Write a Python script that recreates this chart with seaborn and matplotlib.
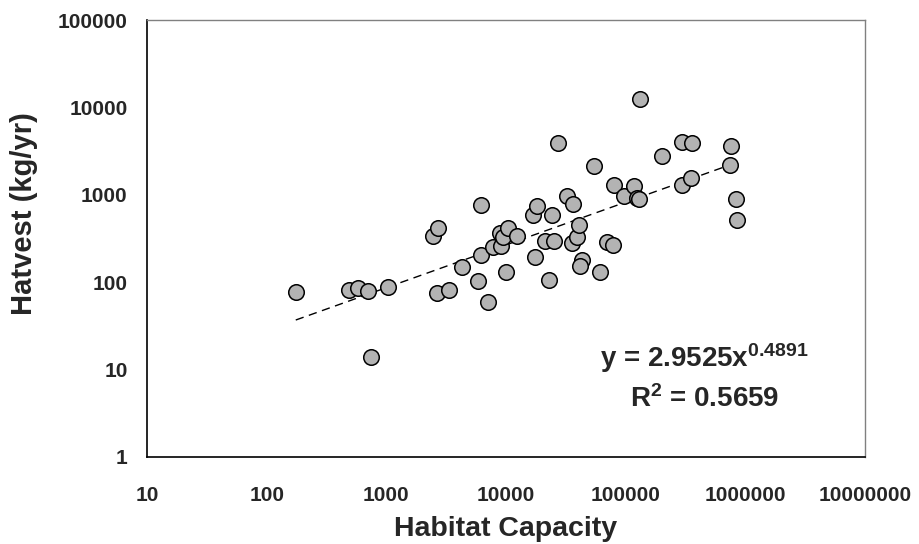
import numpy as np
import pandas as pd
import matplotlib
matplotlib.use("Agg")
import matplotlib.pyplot as plt
from matplotlib.ticker import FixedLocator, FixedFormatter, NullLocator
import seaborn as sns

# ---- data ----
habitat_capacity = [175, 488, 582, 706, 1042, 2650, 3335, 740,
                    2466, 2710, 4306, 5860, 6166, 6166, 7125, 7850,
                    9160, 8900, 9480, 10480, 12450, 9980, 16870, 18230,
                    17420, 21280, 25120, 22910, 24040, 27170, 32060, 36360,
                    35330, 38900, 40440, 43350, 41180, 54480, 60830, 69190,
                    78660, 79650, 96550, 117200, 125400, 128900, 131400, 201800,
                    293600, 358900, 295600, 353900, 756800, 743000, 833700, 855000]
harvest = [76.6, 81.4, 85.2, 78.7, 87.4, 75.2, 81.4, 13.8,
           338, 414, 148.5, 104, 205, 764, 59.8, 254,
           262, 363, 329, 415, 340, 130, 583, 748,
           196, 294, 294, 106.5, 587, 3894, 969, 789,
           283, 332, 454, 181, 152, 2125, 130, 287,
           263, 1285, 957, 1268, 931, 884, 12380, 2794,
           4038, 3948, 1285, 1537, 3637, 2209, 888, 512]

fit_a = 2.9525
fit_b = 0.4891
fit_r2 = 0.5659

x_ticks = [10, 100, 1000, 10000, 100000, 1000000, 10000000]
x_tick_labels = ["10", "100", "1000", "10000", "100000", "1000000", "10000000"]
y_ticks = [1, 10, 100, 1000, 10000, 100000]
y_tick_labels = ["1", "10", "100", "1000", "10000", "100000"]

df = pd.DataFrame({"Habitat Capacity": habitat_capacity, "Harvest": harvest})

# ---- style ----
sns.set_style("white")
plt.rcParams["font.family"] = ["Liberation Sans", "DejaVu Sans"]
plt.rcParams["font.weight"] = "bold"
plt.rcParams["mathtext.fontset"] = "custom"
plt.rcParams["mathtext.rm"] = "Liberation Sans:bold"
plt.rcParams["mathtext.it"] = "Liberation Sans:bold"
plt.rcParams["mathtext.bf"] = "Liberation Sans:bold"

fig = plt.figure(figsize=(9.2, 5.44), dpi=100)
ax = fig.add_axes([147 / 920, 1 - 457 / 544, 718 / 920, 437 / 544])

# trend line (power fit)
xs = np.logspace(np.log10(min(habitat_capacity)), np.log10(max(habitat_capacity)), 200)
ys = fit_a * xs ** fit_b
ax.plot(xs, ys, color="black", lw=1.0, linestyle=(0, (6, 4)), zorder=3)

sns.scatterplot(data=df, x="Habitat Capacity", y="Harvest", ax=ax,
                s=125, color="#b3b3b3", edgecolor="black", linewidth=1.1,
                zorder=4, legend=False)

ax.set_xscale("log")
ax.set_yscale("log")
ax.set_xlim(10, 1e7)
ax.set_ylim(1, 1e5)

ax.xaxis.set_major_locator(FixedLocator(x_ticks))
ax.xaxis.set_major_formatter(FixedFormatter(x_tick_labels))
ax.yaxis.set_major_locator(FixedLocator(y_ticks))
ax.yaxis.set_major_formatter(FixedFormatter(y_tick_labels))
ax.xaxis.set_minor_locator(NullLocator())
ax.yaxis.set_minor_locator(NullLocator())

ax.tick_params(axis="both", which="major", direction="in", length=5, width=1,
               color="black", labelsize=15)
ax.tick_params(axis="x", pad=21)
ax.tick_params(axis="y", pad=14)
for lab in ax.get_xticklabels() + ax.get_yticklabels():
    lab.set_fontweight("bold")

for side in ["left", "bottom"]:
    ax.spines[side].set_color("black")
    ax.spines[side].set_linewidth(1.2)
for side in ["top", "right"]:
    ax.spines[side].set_color("#808080")
    ax.spines[side].set_linewidth(1.0)

ax.set_xlabel("Habitat Capacity", fontsize=20.5, fontweight="bold")
ax.set_ylabel("Hatvest (kg/yr)", fontsize=21, fontweight="bold")
ax.xaxis.set_label_coords(0.5, -0.135)
ax.yaxis.set_label_coords(-0.152, 0.558)

ax.text(0.776, 0.2066, r"y = 2.9525x$^{%s}$" % fit_b, transform=ax.transAxes,
        ha="center", va="baseline", fontsize=20, fontweight="bold")
ax.text(0.777, 0.1144, r"R$^{2}$ = %.4f" % fit_r2, transform=ax.transAxes,
        ha="center", va="baseline", fontsize=20, fontweight="bold")

fig.savefig("out.png", dpi=100)
